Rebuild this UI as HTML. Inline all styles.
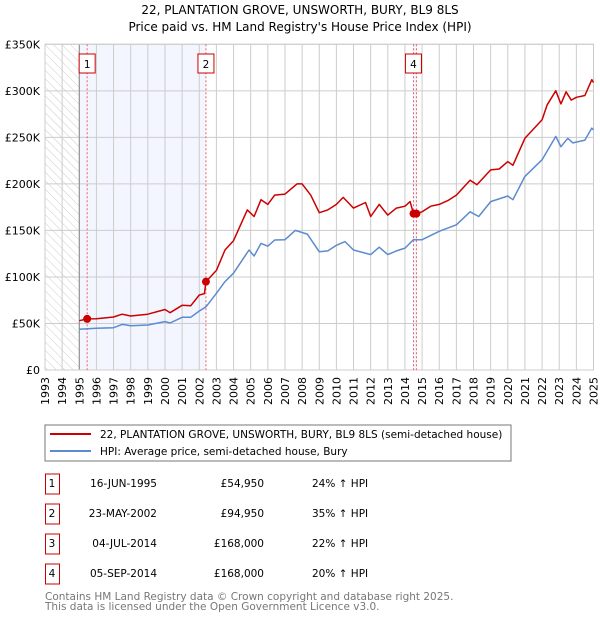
<!DOCTYPE html>
<html><head><meta charset="utf-8"><style>
body{margin:0;background:#fff;}
svg{display:block;font-family:"DejaVu Sans","Liberation Sans",sans-serif;}
</style></head><body>
<svg id="c" width="600" height="620" viewBox="0 0 600 620" xmlns="http://www.w3.org/2000/svg">
<defs><pattern id="hatch" width="6" height="6" patternUnits="userSpaceOnUse" patternTransform="rotate(-45)"><line x1="0" y1="0" x2="0" y2="6" stroke="#ccc" stroke-width="1"/></pattern></defs>
<text x="300" y="14" text-anchor="middle" font-size="12" fill="#000">22, PLANTATION GROVE, UNSWORTH, BURY, BL9 8LS</text>
<text x="300" y="31" text-anchor="middle" font-size="12" fill="#000">Price paid vs. HM Land Registry's House Price Index (HPI)</text>
<g id="plot"></g>
<rect x="45" y="425" width="466" height="36" fill="#fff" stroke="#777"/>
<line x1="50" y1="434" x2="91" y2="434" stroke="#cc0000" stroke-width="2"/>
<text x="100" y="438" font-size="10.5">22, PLANTATION GROVE, UNSWORTH, BURY, BL9 8LS (semi-detached house)</text>
<line x1="50" y1="451" x2="91" y2="451" stroke="#5b8bd0" stroke-width="2"/>
<text x="100" y="455" font-size="10.5">HPI: Average price, semi-detached house, Bury</text>
<g id="tbl" font-size="10.5"></g>
<text x="45" y="600" font-size="10.5" fill="#777">Contains HM Land Registry data © Crown copyright and database right 2025.</text>
<text x="45" y="610" font-size="10.5" fill="#777">This data is licensed under the Open Government Licence v3.0.</text>
</svg>
<script>
const priceT=[1995.0,1995.46,1996,1997,1997.5,1998,1999,2000,2000.3,2001,2001.5,2002,2002.3,2002.39,2003,2003.5,2004,2004.8,2005.2,2005.6,2006,2006.4,2007,2007.7,2008,2008.5,2009,2009.5,2010,2010.4,2011,2011.7,2012,2012.5,2013,2013.5,2014,2014.3,2014.5,2014.67,2015,2015.5,2016,2016.5,2017,2017.8,2018.2,2019,2019.5,2020,2020.3,2021,2021.5,2022,2022.3,2022.8,2023.1,2023.4,2023.7,2024,2024.5,2024.9,2025];
const priceV=[53,54.95,55,57,60,58,60,65,61.6,69.5,69,80.6,82,94.95,107,129,139,172,165,183,178,188,189,200,200,188,169,172,178,185.5,174,180,165,178,166.5,174,176,181,168,168,170,176,178,182,188,204,199,215,216,224,220,249,259,269,285,300,286,299,290,293,295,312,309];
const hpiT=[1995.0,1996,1997,1997.5,1998,1999,2000,2000.3,2001,2001.5,2002,2002.4,2003,2003.5,2004,2004.9,2005.2,2005.6,2006,2006.4,2007,2007.6,2008.3,2009,2009.5,2010,2010.5,2011,2012,2012.5,2013,2013.5,2014,2014.5,2015,2016,2017,2017.8,2018.3,2019,2020,2020.3,2021,2022,2022.8,2023.1,2023.5,2023.8,2024.5,2024.9,2025];
const hpiV=[43.7,44.8,45.5,49,47.6,48.4,52,50.5,56.6,56.6,63.4,68,82.4,95,104,129,122.5,136,133,139.7,140,150,146,127,128,134,138,129,124,132,124,128,131,140,140,149,156,170,165,181,187,183,208,226,251,240,249,244,247,260,258];
const saleT=[1995.46,2002.39,2014.5,2014.67];
const saleV=[54.95,94.95,168,168];
const saleLbl=["1","2","3","4"];
const saleDate=["16-JUN-1995","23-MAY-2002","04-JUL-2014","05-SEP-2014"];
const salePrice=["£54,950","£94,950","£168,000","£168,000"];
const saleHpi=["24% ↑ HPI","35% ↑ HPI","22% ↑ HPI","20% ↑ HPI"];
const yTicks=[0,50,100,150,200,250,300,350];
const yTickLbl=["£0","£50K","£100K","£150K","£200K","£250K","£300K","£350K"];
const xYears=[];for(let y=1993;y<=2025;y++)xYears.push(y);

const X0=45,X1=593.5,Y0=370,Y1=44.3;
const xs=t=>X0+(t-1993)/32*(X1-X0);
const ys=v=>Y0-v/350*(Y0-Y1);
const NS="http://www.w3.org/2000/svg";
const g=document.getElementById('plot');
function mk(tag,attrs,parent){const e=document.createElementNS(NS,tag);for(const k in attrs)e.setAttribute(k,attrs[k]);(parent||g).appendChild(e);return e;}

let e=mk('rect',{x:xs(1995),y:Y1,width:xs(saleT[1])-xs(1995),height:Y0-Y1,fill:'#f3f6fe'});


e=mk('rect',{x:xs(saleT[2]),y:Y1,width:xs(saleT[3])-xs(saleT[2]),height:Y0-Y1,fill:'#f3f6fe'});


e=mk('rect',{x:X0,y:Y1,width:xs(1995)-X0,height:Y0-Y1,fill:'url(#hatch)'});


xYears.forEach(y=>{
  const l=mk('line',{x1:xs(y),x2:xs(y),y1:Y1,y2:Y0,stroke:'#ccc','stroke-width':1});
  
  
  const t=mk('text',{x:0,y:0,'font-size':11,transform:`translate(${xs(y)+4},${Y0+35}) rotate(-90)`});
  t.textContent=y;
  
  
});
yTicks.forEach((v,i)=>{
  const l=mk('line',{x1:X0,x2:X1,y1:ys(v),y2:ys(v),stroke:'#ccc','stroke-width':1});
  
  
  const t=mk('text',{x:X0-5,y:ys(v)+4,'font-size':11,'text-anchor':'end'});
  t.textContent=yTickLbl[i];
  
  
});
e=mk('line',{x1:xs(1995),x2:xs(1995),y1:Y1,y2:Y0,stroke:'#888','stroke-width':1});


e=mk('rect',{x:X0,y:Y1,width:X1-X0,height:Y0-Y1,fill:'none',stroke:'#ccc'});


saleT.forEach((t,i)=>{
  const l=mk('line',{x1:xs(t),x2:xs(t),y1:Y1,y2:Y0,stroke:'#f06060','stroke-width':1,'stroke-dasharray':'2,2'});
  
  
});
function path(T,V,col,name){
  const d=T.map((t,i)=>(i?'L':'M')+xs(t).toFixed(1)+','+ys(V[i]).toFixed(1)).join('');
  const p=mk('path',{d:d,fill:'none',stroke:col,'stroke-width':1.5,'stroke-linejoin':'round'});
  
  
}
path(hpiT,hpiV,'#5b8bd0','hpi-line');
path(priceT,priceV,'#cc0000','price-line');
saleT.forEach((t,i)=>{
  const c=mk('circle',{cx:xs(t),cy:ys(saleV[i]),r:4,fill:'#cc0000'});
  
  
  const bx=xs(t)-(i===3?3:0);
  const r=mk('rect',{x:bx-8,y:54,width:16,height:19,fill:'#fff',stroke:'#cc0000'});
  
  
  const tx=mk('text',{x:bx,y:68,'font-size':10.5,'text-anchor':'middle'});
  tx.textContent=saleLbl[i];
  
  
});
const tb=document.getElementById('tbl');
saleLbl.forEach((s,i)=>{
  const cy=483+i*30;
  const r=mk('rect',{x:45.5,y:cy-9,width:14,height:20,fill:'none',stroke:'#cc0000'},tb);
  
  
  const vals=[[s,52,'middle'],[saleDate[i],157,'end'],[salePrice[i],264,'end'],[saleHpi[i],312,'start']];
  const nm=['table-index-','table-date-','table-price-','table-hpi-'];
  vals.forEach((v,j)=>{
    const t=mk('text',{x:v[1],y:cy+4,'text-anchor':v[2]},tb);
    t.textContent=v[0];
    
    
  });
});
</script>
</body></html>
